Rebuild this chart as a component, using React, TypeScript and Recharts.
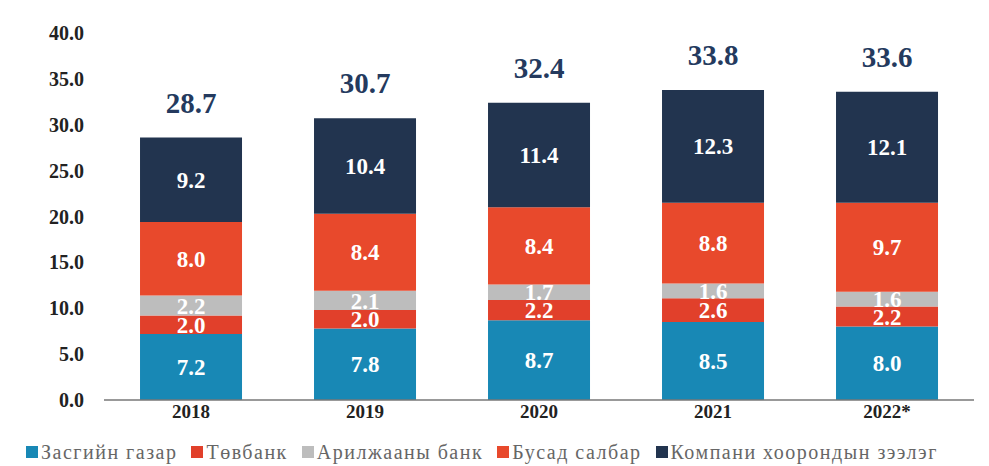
import React from 'react';
import { BarChart, Bar, XAxis, YAxis, LabelList, Legend } from 'recharts';

const years = ['2018', '2019', '2020', '2021', '2022*'];
const government = [7.2, 7.8, 8.7, 8.5, 8.0];
const centralBank = [2.0, 2.0, 2.2, 2.6, 2.2];
const commercialBanks = [2.2, 2.1, 1.7, 1.6, 1.6];
const otherSectors = [8.0, 8.4, 8.4, 8.8, 9.7];
const intercompany = [9.2, 10.4, 11.4, 12.3, 12.1];
const totals = [28.7, 30.7, 32.4, 33.8, 33.6];
const yTicks = [0, 5, 10, 15, 20, 25, 30, 35, 40];

const FONT = 'Liberation Serif, Times New Roman, serif';

const series = [
  { key: 'gov', name: 'Засгийн газар', color: '#1888b5' },
  { key: 'cb', name: 'Төвбанк', color: '#e1402b' },
  { key: 'bank', name: 'Арилжааны банк', color: '#bdbdbd' },
  { key: 'other', name: 'Бусад салбар', color: '#e8492c' },
  { key: 'inter', name: 'Компани хоорондын зээлэг', color: '#22344f' },
];

const data = years.map((year, i) => ({
  year,
  gov: government[i],
  cb: centralBank[i],
  bank: commercialBanks[i],
  other: otherSectors[i],
  inter: intercompany[i],
  total: totals[i],
}));

const fmt = (v: number) => Number(v).toFixed(1);

// legend laid out like the source: small squares, grey serif text
const renderLegend = () => (
  <div style={{ display: 'flex', alignItems: 'center', height: 24, fontFamily: FONT, fontSize: 20, color: '#666', whiteSpace: 'nowrap' }}>
    {series.map((s) => (
      <div key={s.key} style={{ display: 'flex', alignItems: 'center', marginRight: 14 }}>
        <span style={{ width: 12, height: 12, background: s.color, display: 'inline-block', marginRight: 3 }} />
        <span style={{ fontFamily: FONT, letterSpacing: 1.5 }}>{s.name}</span>
      </div>
    ))}
  </div>
);

export default function App() {
  return (
    <div style={{ position: 'absolute', left: 0, top: 0, background: '#fff' }}>
      <BarChart
        width={989}
        height={466}
        data={data}
        margin={{ top: 33, right: 15, left: 0, bottom: 12 }}
        barCategoryGap="20.7%"
      >
        <XAxis
          dataKey="year"
          axisLine={{ stroke: '#777', strokeWidth: 1.5 }}
          tickLine={false}
          tickSize={0}
          tickMargin={5}
          tick={{ fontFamily: FONT, fontSize: 19, fontWeight: 'bold', fill: '#222' }}
        />
        <YAxis
          width={104}
          domain={[0, 40]}
          ticks={yTicks}
          axisLine={false}
          tickLine={false}
          tickSize={0}
          tickMargin={20}
          tickFormatter={fmt}
          tick={{ fontFamily: FONT, fontSize: 20, fontWeight: 'bold', fill: '#222' }}
        />
        <Legend
          verticalAlign="bottom"
          align="left"
          content={renderLegend}
          wrapperStyle={{ left: 26, bottom: 2, width: 'auto' }}
        />
        {series.map((s, idx) => (
          <Bar key={s.key} dataKey={s.key} name={s.name} stackId="a" fill={s.color} isAnimationActive={false}>
            <LabelList
              dataKey={s.key}
              position="center"
              formatter={fmt}
              fill="#fff"
              fontFamily={FONT}
              fontSize={23}
              fontWeight="bold"
            />
            {idx === series.length - 1 && (
              <LabelList
                dataKey="total"
                position="top"
                offset={25}
                formatter={fmt}
                fill="#243a5e"
                fontFamily={FONT}
                fontSize={29}
                fontWeight="bold"
              />
            )}
          </Bar>
        ))}
      </BarChart>
    </div>
  );
}
